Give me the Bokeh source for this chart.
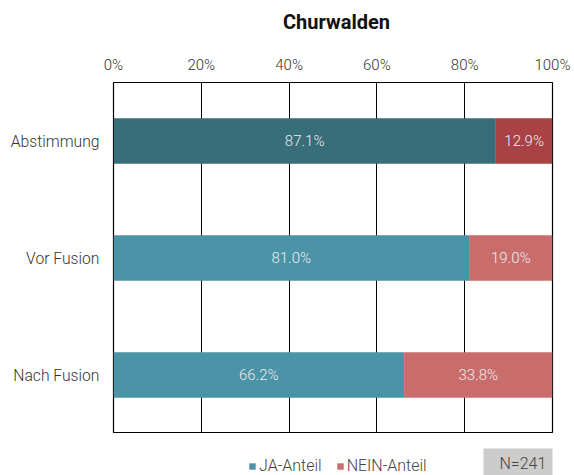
from bokeh.plotting import figure
from bokeh.layouts import column
from bokeh.models import ColumnDataSource, NumeralTickFormatter, Legend, LegendItem, Label, FixedTicker
from bokeh.core.properties import value
from bokeh.embed import file_html
from bokeh.resources import INLINE

categories = ["Abstimmung", "Vor Fusion", "Nach Fusion"]
ja = [87.1, 81.0, 66.2]
nein = [12.9, 19.0, 33.8]
ja_colors = ["#386d7a", "#4b93a6", "#4b93a6"]
nein_colors = ["#a84245", "#c96c6c", "#c96c6c"]
title_text = "Churwalden"
n_text = "N=241"
legend_labels = ["JA-Anteil", "NEIN-Anteil"]

ja_f = [v / 100 for v in ja]
nein_f = [v / 100 for v in nein]
src = ColumnDataSource(dict(
    cat=categories,
    ja=ja_f,
    nein_left=ja_f,
    nein_right=[a + b for a, b in zip(ja_f, nein_f)],
    ja_mid=[a / 2 for a in ja_f],
    nein_mid=[a + b / 2 for a, b in zip(ja_f, nein_f)],
    ja_lbl=["%.1f%%" % v for v in ja],
    nein_lbl=["%.1f%%" % v for v in nein],
    ja_col=ja_colors,
    nein_col=nein_colors,
))

FONT = "Roboto Light"


def blank(height):
    fig = figure(width=574, height=height, y_range=list(reversed(categories)), x_range=(5, 6),
                 output_backend="svg", toolbar_location=None, x_axis_type=None, y_axis_type=None,
                 min_border_left=0, min_border_right=0, min_border_top=0, min_border_bottom=0)
    fig.outline_line_color = None
    fig.xgrid.grid_line_color = None
    fig.ygrid.grid_line_color = None
    return fig


# header with title
h = blank(40)
h.add_layout(Label(x=223, y=19, x_units="screen", y_units="screen", text=title_text,
                   text_font="Roboto", text_font_size="20px", text_font_style="bold",
                   text_color="#111111", text_align="center", text_baseline="middle"))

# main chart
p = figure(width=574, height=393, y_range=list(reversed(categories)), x_range=(0, 1),
           output_backend="svg", toolbar_location=None, x_axis_location="above",
           min_border_left=113, min_border_right=22, min_border_top=42, min_border_bottom=0)

ja_r = p.hbar(y="cat", left=0, right="ja", height=0.39, source=src, fill_color="ja_col", line_color=None)
ne_r = p.hbar(y="cat", left="nein_left", right="nein_right", height=0.39, source=src, fill_color="nein_col", line_color=None)

p.text(x="ja_mid", y="cat", text="ja_lbl", source=src, text_align="center", text_baseline="middle",
       text_color="#eeeeee", text_font=value(FONT), text_font_size="15px")
p.text(x="nein_mid", y="cat", text="nein_lbl", source=src, text_align="center", text_baseline="middle",
       text_color="#eeeeee", text_font=value(FONT), text_font_size="15px")

xa = p.xaxis[0]
xa.ticker = FixedTicker(ticks=[0, 0.2, 0.4, 0.6, 0.8, 1.0])
xa.formatter = NumeralTickFormatter(format="0%")
xa.axis_line_color = None
xa.major_tick_line_color = None
xa.minor_tick_line_color = None
xa.major_tick_out = 0
xa.major_tick_in = 0
xa.minor_tick_out = 0
xa.major_label_standoff = 9
xa.major_label_text_font = FONT
xa.major_label_text_font_size = "15px"
xa.major_label_text_color = "#333333"

ya = p.yaxis[0]
ya.axis_line_color = None
ya.major_tick_line_color = None
ya.major_tick_out = 0
ya.major_tick_in = 0
ya.major_label_standoff = 14
ya.major_label_text_font = FONT
ya.major_label_text_font_size = "15.7px"
ya.major_label_text_color = "#333333"

p.xgrid.grid_line_color = "#000000"
p.xgrid.grid_line_width = 1
p.xgrid.ticker = FixedTicker(ticks=[0.2, 0.4, 0.6, 0.8])
p.ygrid.grid_line_color = None
p.outline_line_color = "#000000"
p.outline_line_width = 1.2
p.outline_line_alpha = 1

# footer with legend and sample size
f = blank(42)
fja = f.hbar(y="cat", left=0, right="ja", height=0, source=src, fill_color="ja_col", line_color=None)
fne = f.hbar(y="cat", left="nein_left", right="nein_right", height=0, source=src, fill_color="nein_col", line_color=None)

legend = Legend(items=[LegendItem(label=legend_labels[0], renderers=[fja], index=1),
                       LegendItem(label=legend_labels[1], renderers=[fne], index=1)],
                orientation="horizontal", location=(135, 0))
legend.margin = 0
legend.padding = 0
legend.border_line_color = None
legend.background_fill_alpha = 0
legend.glyph_width = 8
legend.glyph_height = 8
legend.label_standoff = 3
legend.spacing = 14
legend.label_text_font = FONT
legend.label_text_font_size = "16px"
legend.label_text_color = "#444444"
legend.label_height = 14
f.add_layout(legend, "center")

nlab = Label(x=370, y=9, x_units="screen", y_units="screen", text=n_text,
             text_font=FONT, text_font_size="16px", text_color="#444444",
             text_baseline="alphabetic",
             background_fill_color="#cccccc",
             padding=dict(left=16, right=12, top=5, bottom=12))
f.add_layout(nlab)

layout = column(h, p, f, spacing=0)
open("out.html", "w").write(file_html(layout, INLINE))
